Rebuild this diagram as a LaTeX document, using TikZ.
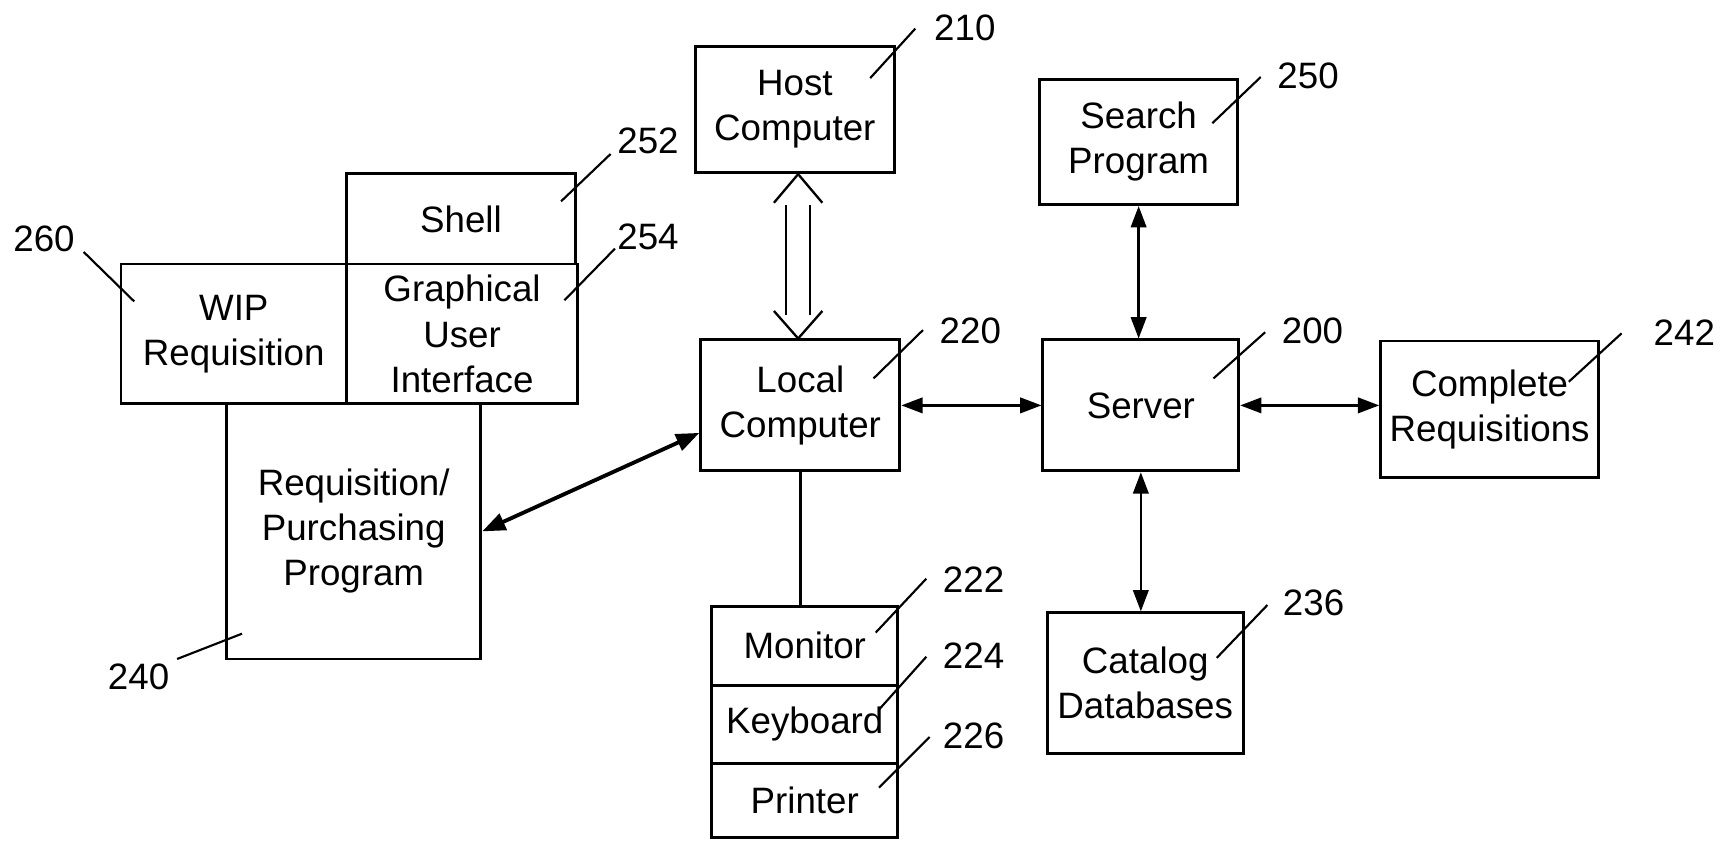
\documentclass[tikz,border=0pt]{standalone}
\usepackage{fontspec}
\setmainfont{Liberation Sans}
\usetikzlibrary{arrows.meta,calc}
\newcommand\mkbox[6]{%
  \node[box,minimum width={(#4-#2)*0.02cm},minimum height={(#5-#3)*0.02cm}]
    (#1) at ({(#2+#4)/2},{(#3+#5)/2}) {#6};}
\begin{document}
\begin{tikzpicture}[x=0.02cm,y=-0.02cm,
  box/.style={draw,line width=1.5pt,inner sep=0pt,align=center,font=\fontsize{19}{23.3}\selectfont},
  lbl/.style={font=\fontsize{19}{23}\selectfont,inner sep=0pt},
  leader/.style={line width=1.1pt},
  tip/.style={line width=1.2pt},
  conn/.style={line width=1.2pt,{Triangle[length=11pt,width=8pt]}-{Triangle[length=11pt,width=8pt]}},
  thickconn/.style={line width=2pt,{Triangle[length=12pt,width=9pt]}-{Triangle[length=12pt,width=9pt]}}
  ]
\useasboundingbox (0,0) rectangle (1568,764.5);
% boxes
\mkbox{host}{632}{42}{813}{157}{Host\\Computer}
\mkbox{search}{945}{72}{1125}{186}{Search\\Program}
\mkbox{shell}{315}{158}{523}{240}{Shell}
\mkbox{wip}{110}{240}{315}{367}{WIP\\Requisition}
\mkbox{gui}{315}{240}{525}{367}{Graphical\\User\\Interface}
\mkbox{req}{206}{367}{437}{599}{Requisition/\\Purchasing\\Program}
\mkbox{local}{637}{309}{818}{428}{Local\\Computer}
\mkbox{server}{948}{309}{1126}{428}{Server}
\mkbox{complete}{1255}{310}{1453}{434}{Complete\\Requisitions}
\mkbox{catalog}{952}{557}{1130}{685}{Catalog\\Databases}
\mkbox{monitor}{647}{551}{816}{623}{Monitor}
\mkbox{keyboard}{647}{623}{816}{694}{Keyboard}
\mkbox{printer}{647}{694}{816}{761}{Printer}
% connectors
\draw[conn] (local.east) -- (server.west);
\draw[conn] (server.east) -- (server.east -| complete.west);
\draw[conn] (search.south) -- (search.south |- server.north);
\draw[conn] (server.south) -- (server.south |- catalog.north);
\draw[thickconn] (req.east) -- ($(local.west)+(0,25)$);
\draw[line width=1.2pt] (local.south) -- (local.south |- monitor.north);
% host <-> local open double arrow
\coordinate (ht) at ($(host.south)+(3,0)$);
\coordinate (lt) at (ht |- local.north);
\draw[tip] ($(ht)+(-22,26)$) -- (ht) -- ($(ht)+(22,26)$);
\draw[tip] ($(lt)+(-22,-25)$) -- (lt) -- ($(lt)+(22,-25)$);
\draw[tip] ($(ht)+(-11,28)$) -- ($(lt)+(-11,-21)$);
\draw[tip] ($(ht)+(11,28)$) -- ($(lt)+(11,-21)$);
% reference labels
\node[lbl] (n210) at (877,25) {210};
\draw[leader] (791,71) -- (832,26);
\node[lbl] (n250) at (1189,69) {250};
\draw[leader] (1102,112) -- (1146,70);
\node[lbl] (n252) at (589,128) {252};
\draw[leader] (510,183) -- (555,140);
\node[lbl] (n254) at (589,215) {254};
\draw[leader] (513,273) -- (559,226);
\node[lbl] (n260) at (40,217) {260};
\draw[leader] (76,229) -- (122,274);
\node[lbl] (n240) at (126,615) {240};
\draw[leader] (161,599) -- (220,576);
\node[lbl] (n220) at (882,301) {220};
\draw[leader] (794,344) -- (839,300);
\node[lbl] (n200) at (1193,301) {200};
\draw[leader] (1103,344) -- (1150,302);
\node[lbl] (n242) at (1531,302) {242};
\draw[leader] (1426,347) -- (1474,303);
\node[lbl] (n236) at (1194,548) {236};
\draw[leader] (1106,598) -- (1152,550);
\node[lbl] (n222) at (885,527) {222};
\draw[leader] (796,575) -- (842,526);
\node[lbl] (n224) at (885,596) {224};
\draw[leader] (799,645) -- (842,597);
\node[lbl] (n226) at (885,669) {226};
\draw[leader] (799,716) -- (845,670);
\end{tikzpicture}
\end{document}
